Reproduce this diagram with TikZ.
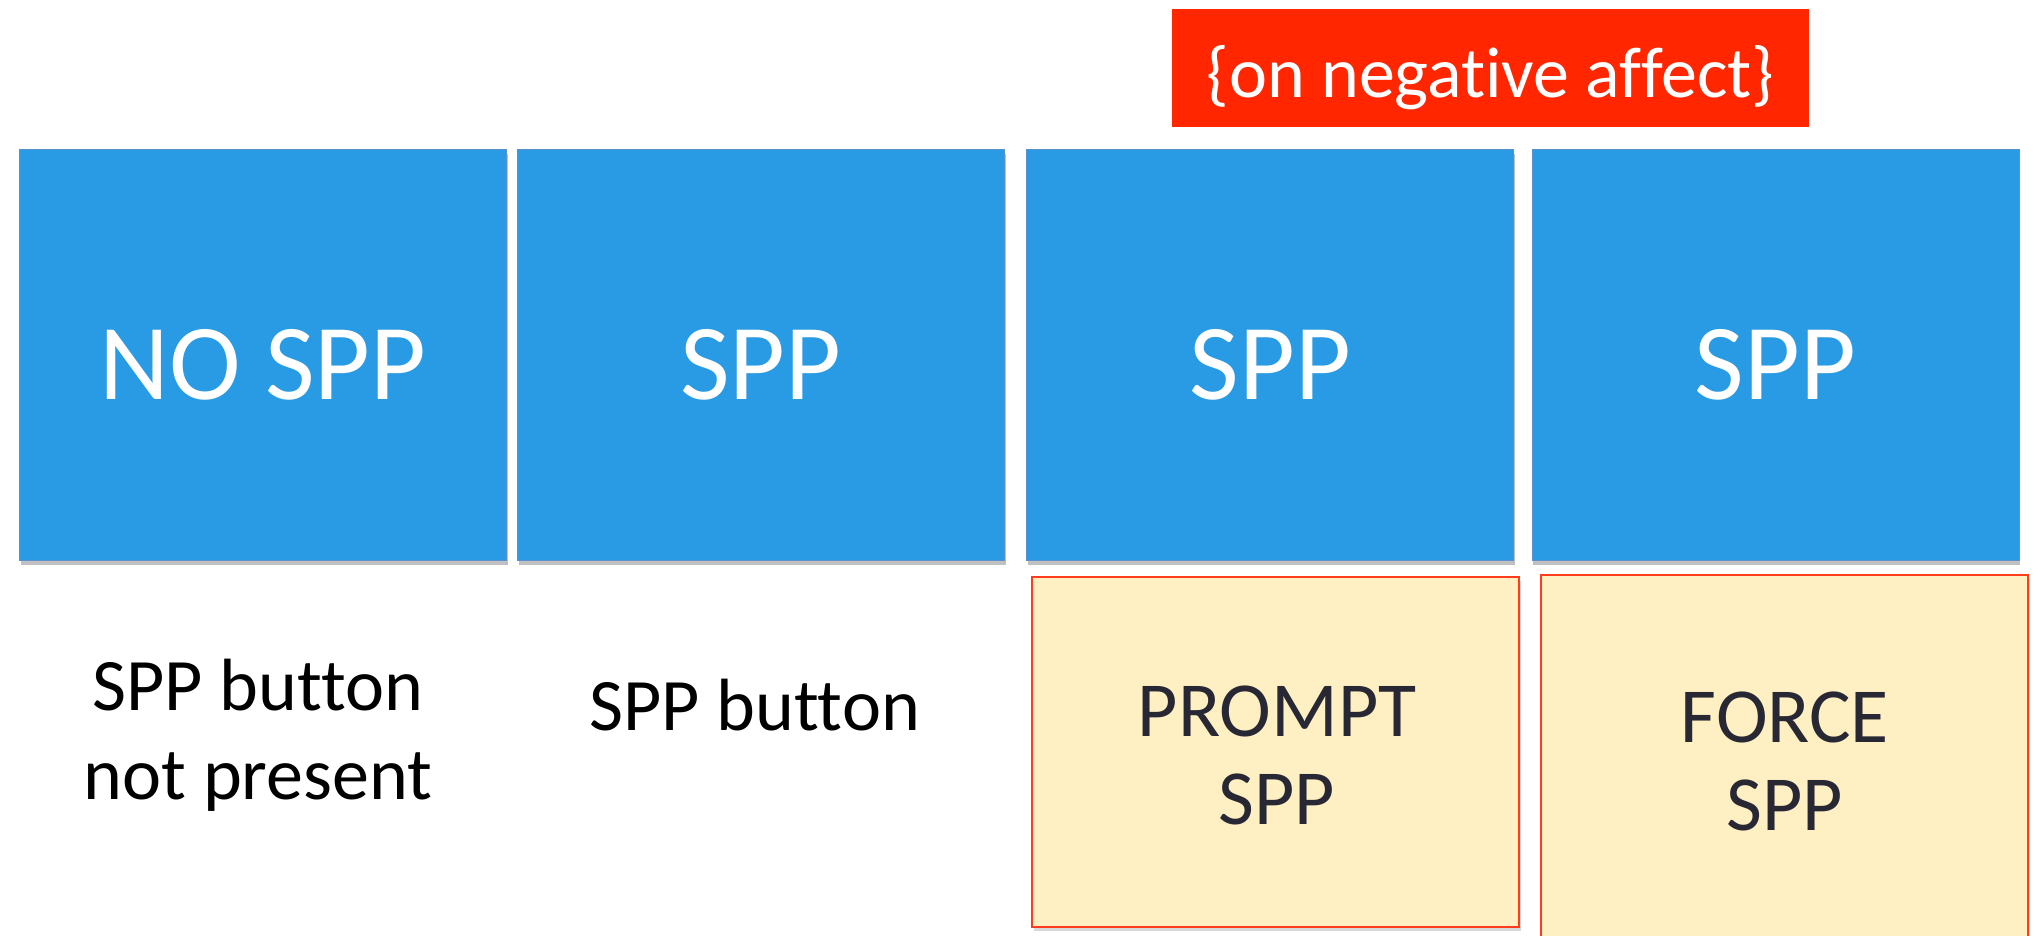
\documentclass[tikz,border=0pt]{standalone}
\usepackage{fontspec}
\setmainfont{Carlito}[Ligatures={NoCommon}]
\usetikzlibrary{shadows}
\definecolor{boxblue}{RGB}{40,155,228}
\definecolor{boxedge}{RGB}{90,145,205}
\definecolor{tagred}{RGB}{255,38,0}
\definecolor{noteyellow}{RGB}{255,240,196}
\definecolor{noteedge}{RGB}{255,60,30}
\definecolor{darktext}{RGB}{40,40,52}
\tikzset{
  bluebox/.style={fill=boxblue, draw=boxedge, line width=0.8pt, inner sep=0pt,
    minimum width=487pt, minimum height=411pt,
    drop shadow={shadow xshift=1pt, shadow yshift=-5pt, opacity=0.35, fill=black!70}},
  bluetext/.style={anchor=base, inner sep=0pt, text=white, font=\fontsize{108}{130}\selectfont},
  tagbox/.style={fill=tagred, inner sep=0pt, minimum width=637pt, minimum height=117.5pt},
  tagtext/.style={anchor=base, inner sep=0pt, text=white, font=\fontsize{72}{85}\selectfont},
  notebox/.style={fill=noteyellow, draw=noteedge, line width=2pt, inner sep=0pt,
    minimum width=487pt,
    drop shadow={shadow xshift=2pt, shadow yshift=-4pt, opacity=0.25, fill=black!60}},
  notetext/.style={anchor=base, inner sep=0pt, text=darktext, align=center,
    font=\fontsize{78}{88}\selectfont},
  labeltext/.style={anchor=base, inner sep=0pt, text=black, align=center,
    font=\fontsize{74}{88.5}\selectfont}
}
\begin{document}
\begin{tikzpicture}[x=1pt,y=-1pt]
\useasboundingbox (0,0) rectangle (2044,935);
\fill[white] (0,0) rectangle (2044,935);

% red tag
\node[tagbox] (tag) at (1490.5,67.75) {};
\node[tagtext] (tagt) at (1490.5,97.5) {\{on negative affect\}};

% blue boxes
\node[bluebox] (b1) at (263,354.5) {};
\node[bluebox] (b2) at (761,354.5) {};
\node[bluebox] (b3) at (1270.3,354.5) {};
\node[bluebox] (b4) at (1775.5,354.5) {};
\node[bluetext] (t1) at (263,399.5) {NO SPP};
\node[bluetext] (t2) at (761,399.5) {SPP};
\node[bluetext] (t3) at (1270.3,399.5) {SPP};
\node[bluetext] (t4) at (1775.5,399.5) {SPP};

% yellow boxes
\node[notebox, minimum height=350pt] (y3) at (1275.5,752) {};
\node[notebox, minimum height=375pt] (y4) at (1784.5,762.5) {};
\node[notetext] (y3t) at (1277,824) {PROMPT\\SPP};
\node[notetext] (y4t) at (1785,830) {FORCE\\SPP};

% labels
\node[labeltext] (l1) at (258,799) {SPP button\\not present};
\node[labeltext] (l2) at (754.6,730.6) {SPP button};
\end{tikzpicture}
\end{document}
